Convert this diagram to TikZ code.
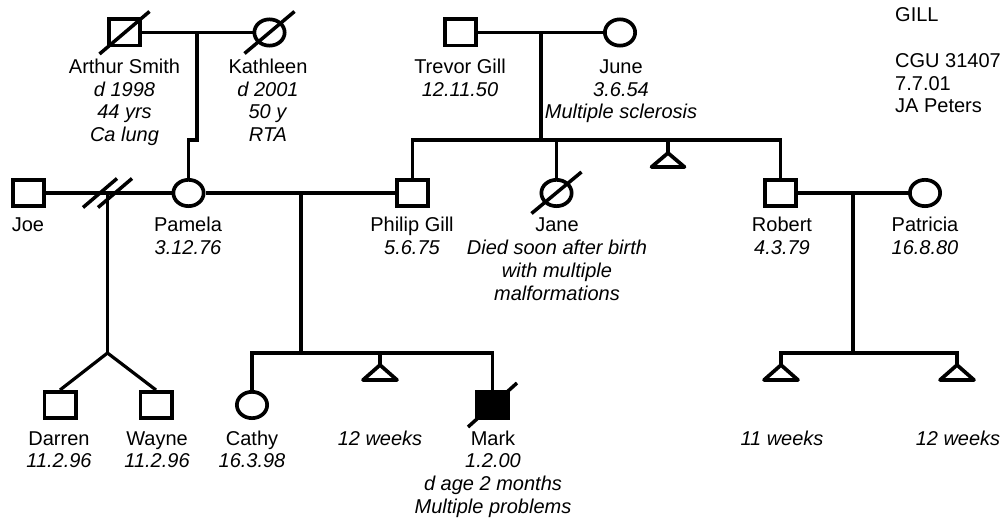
\documentclass[tikz,border=0pt]{standalone}
\usepackage{fontspec}
\setmainfont{Liberation Sans}
\usetikzlibrary{shapes.geometric,calc}
\begin{document}
\begin{tikzpicture}[x=1pt,y=-1pt,
  male/.style={draw, line width=3.7pt, rectangle, minimum width=31.3pt, minimum height=26.3pt, inner sep=0pt},
  female/.style={draw, line width=3.7pt, ellipse, minimum width=30.3pt, minimum height=26.3pt, inner sep=0pt},
  conn/.style={line width=3.2pt},
  slashline/.style={line width=3.5pt},
  tri/.style={line width=3.7pt, line join=round},
  lbl/.style={anchor=base, align=center, inner sep=0pt, font=\fontsize{20}{22.7}\selectfont},
  lbll/.style={anchor=base west, align=left, inner sep=0pt, font=\fontsize{20}{22.7}\selectfont}]
\useasboundingbox (0,0) rectangle (1003,518);
% generation I
\node[male] (arthur) at (124.5,32.5) {};
\node[female] (kathleen) at (269.5,32.5) {};
\node[male] (trevor) at (460.5,32.5) {};
\node[female] (june) at (620,32.5) {};
% generation II
\node[male] (joe) at (28.5,193) {};
\node[female] (pamela) at (188.5,193) {};
\node[male] (philip) at (412.5,193) {};
\node[female] (jane) at (556.5,193) {};
\node[male] (robert) at (780.5,193) {};
\node[female] (patricia) at (925,193) {};
% generation III
\node[male] (darren) at (60,405) {};
\node[male] (wayne) at (156,405) {};
\node[female] (cathy) at (252,405) {};
\node[male, fill=black] (mark) at (492.5,405) {};
% Arthur - Kathleen
\draw[conn] (arthur) -- (kathleen);
\coordinate (akm) at (197,32.5);
\draw[conn] (akm) -- ++(0,107.5) -| (pamela.north);
% Trevor - June
\draw[conn] (trevor) -- (june);
\coordinate (tjm) at (541,32.5);
\coordinate (sib1) at (541,140);
\draw[conn] (tjm) -- (sib1);
\draw[conn] (philip.north) |- (sib1) -| (robert.north);
\draw[conn] (jane.north) -- (jane.north |- sib1);
\coordinate (mc1) at (668,140);
\draw[conn] (mc1) -- ++(0,13) coordinate (mc1a);
\draw[tri] (mc1a) -- ++(-16.5,14) -- ++(33,0) -- cycle;
% Joe - Pamela
\draw[conn] (joe) -- (pamela);
\coordinate (jpm) at (107.5,193);
\draw[slashline] ($(jpm)+(-24.5,14.5)$) -- ($(jpm)+(9.5,-14.5)$);
\draw[slashline] ($(jpm)+(-9.5,14.5)$) -- ($(jpm)+(24.5,-14.5)$);
\coordinate (twin) at (107.5,353);
\draw[conn] (jpm) -- (twin);
\draw[conn] (darren.north) -- (twin) -- (wayne.north);
% Pamela - Philip
\draw[conn] (pamela) -- (philip);
\coordinate (ppm) at (301,193);
\coordinate (sib2) at (301,353);
\draw[conn] (ppm) -- (sib2);
\draw[conn] (cathy.north) |- (sib2) -| (mark.north);
\coordinate (mc2) at (380,353);
\draw[conn] (mc2) -- ++(0,12) coordinate (mc2a);
\draw[tri] (mc2a) -- ++(-17,15) -- ++(34,0) -- cycle;
% Robert - Patricia
\draw[conn] (robert) -- (patricia);
\coordinate (rpm) at (853,193);
\coordinate (sib3) at (853,353);
\draw[conn] (rpm) -- (sib3);
\coordinate (mc3) at (781,365);
\coordinate (mc4) at (957,365);
\draw[conn] (mc3) |- (sib3) -| (mc4);
\draw[tri] (mc3) -- ++(-17,15) -- ++(34,0) -- cycle;
\draw[tri] (mc4) -- ++(-17,15) -- ++(34,0) -- cycle;
% deceased slashes
\draw[slashline] ($(arthur)+(-25,21.5)$) -- ($(arthur)+(25,-21)$);
\draw[slashline] ($(kathleen)+(-25,21)$) -- ($(kathleen)+(25,-21)$);
\draw[slashline] ($(jane)+(-25,20.5)$) -- ($(jane)+(25,-21)$);
\draw[slashline] ($(mark)+(-24.5,22)$) -- ($(mark)+(24.5,-22)$);
% labels (anchor = baseline of the last line)
\node[lbl] (arthurL) at (124.5,141.6) {Arthur Smith\\\textit{d 1998}\\\textit{44 yrs}\\\textit{Ca lung}};
\node[lbl] (kathleenL) at (268,141.6) {Kathleen\\\textit{d 2001}\\\textit{50 y}\\\textit{RTA}};
\node[lbl] (trevorL) at (460,96.2) {Trevor Gill\\\textit{12.11.50}};
\node[lbl] (juneL) at (621,118.9) {June\\\textit{3.6.54}\\\textit{Multiple sclerosis}};
\node[lbl] (joeL) at (28,232) {Joe};
\node[lbl] (pamelaL) at (188,254.7) {Pamela\\\textit{3.12.76}};
\node[lbl] (philipL) at (412,254.7) {Philip Gill\\\textit{5.6.75}};
\node[lbl] (janeL) at (557,300.1) {Jane\\\textit{Died soon after birth}\\\textit{with multiple}\\\textit{malformations}};
\node[lbl] (robertL) at (782,254.7) {Robert\\\textit{4.3.79}};
\node[lbl] (patriciaL) at (925,254.7) {Patricia\\\textit{16.8.80}};
\node[lbl] (darrenL) at (59,467.7) {Darren\\\textit{11.2.96}};
\node[lbl] (wayneL) at (157,467.7) {Wayne\\\textit{11.2.96}};
\node[lbl] (cathyL) at (252,467.7) {Cathy\\\textit{16.3.98}};
\node[lbl] (mc2L) at (380,445) {\textit{12 weeks}};
\node[lbl] (markL) at (493,513.1) {Mark\\\textit{1.2.00}\\\textit{d age 2 months}\\\textit{Multiple problems}};
\node[lbl] (mc3L) at (782,445) {\textit{11 weeks}};
\node[lbl] (mc4L) at (958,445) {\textit{12 weeks}};
\node[lbll] (info) at (895,112.8) {GILL\\[22.7pt]CGU 31407\\7.7.01\\JA Peters};
\end{tikzpicture}
\end{document}
